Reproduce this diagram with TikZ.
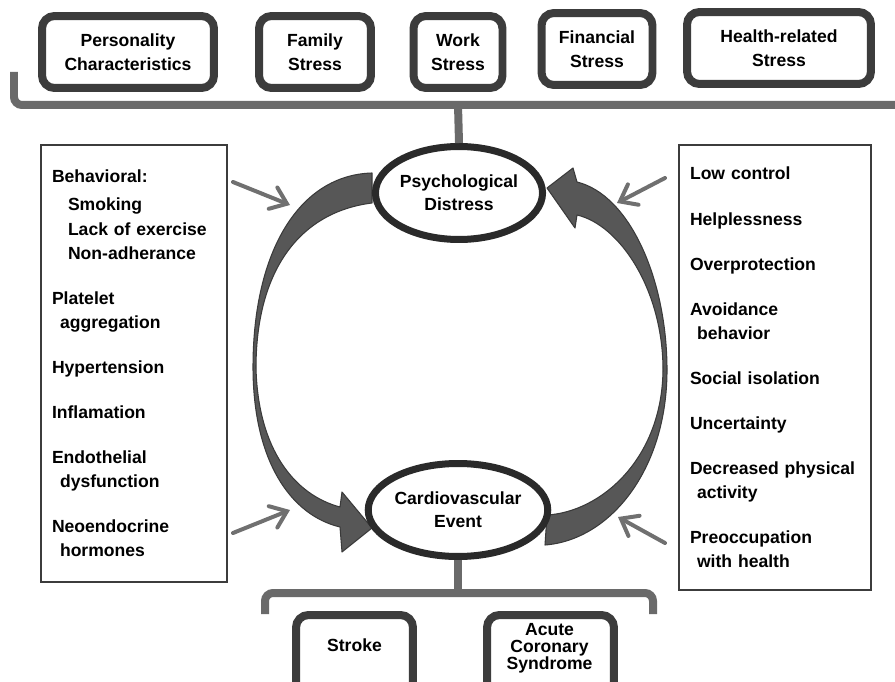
\documentclass[tikz,border=0pt]{standalone}
\usepackage{fontspec}
\setmainfont{Liberation Sans}
\usetikzlibrary{shapes.geometric,arrows.meta}

\definecolor{boxgray}{HTML}{3C3C3C}
\definecolor{ringgray}{HTML}{2A2A2A}
\definecolor{brackgray}{HTML}{6A6A6A}
\definecolor{bigfill}{HTML}{575757}
\definecolor{bigedge}{HTML}{3A3A3A}
\definecolor{feedgray}{HTML}{707070}

\begin{document}
\begin{tikzpicture}[x=0.02cm,y=-0.02cm,
  font=\fontsize{10}{13.7}\selectfont\bfseries,
  stressbox/.style={draw=boxgray,line width=0.16cm,rounded corners=0.25cm,
    minimum height=1.44cm,align=center,fill=white},
  outcomebox/.style={draw=boxgray,line width=0.16cm,rounded corners=0.25cm,
    minimum height=1.8cm,fill=white},
  state/.style={ellipse,draw=ringgray,line width=0.14cm,fill=white,
    minimum width=3.34cm,minimum height=1.86cm,inner sep=0pt,align=center,
    font=\fontsize{10}{13.1}\selectfont\bfseries},
  listbox/.style={draw=boxgray,line width=0.8pt,align=left,inner xsep=0.22cm},
  bracket/.style={draw=brackgray,line width=0.16cm},
  bigarrow/.style={fill=bigfill,draw=bigedge,line width=0.6pt,line join=round},
  feed/.style={draw=feedgray,line width=0.08cm,line cap=round,
    -{Straight Barb[length=0.3cm,width=0.46cm,line cap=round]}}]
\useasboundingbox (0,0) rectangle (895,682);
\clip (0,0) rectangle (895,682);

\path[bigarrow] (372,173) .. controls (300,175) and (253,250) .. (253,367)
  .. controls (253,460) and (290,515) .. (340,527)
  -- (342,552) -- (372,528) -- (342,492) -- (340,507)
  .. controls (295,495) and (258,450) .. (256,368)
  .. controls (256,270) and (300,212) .. (372,203) -- cycle;
\path[bigarrow] (577,182) .. controls (630,195) and (667,280) .. (667,370)
  .. controls (667,470) and (610,540) .. (545,545)
  -- (547,515)
  .. controls (600,512) and (662,460) .. (663,370)
  .. controls (663,290) and (620,225) .. (577,215)
  -- (575,228) -- (547,188) -- (573,168) -- cycle;

\node[stressbox,minimum width=3.44cm] (personality) at (128,52) {Personality\\Characteristics};
\node[stressbox,minimum width=2.24cm] (family) at (315,52) {Family\\Stress};
\node[stressbox,minimum width=1.78cm] (work) at (458,52) {Work\\Stress};
\node[stressbox,minimum width=2.22cm] (financial) at (597,49) {Financial\\Stress};
\node[stressbox,minimum width=3.68cm] (health) at (779,48) {Health-related\\Stress};

\node[state] (distress) at (459,193) {Psychological\\Distress};
\node[state] (event) at (458,510) {Cardiovascular\\Event};

\node[listbox,text width=3.28cm,minimum height=8.74cm] (mechanisms) at (134,363.5) {
Behavioral:\\[0.08cm]
\hspace*{0.32cm}Smoking\\
\hspace*{0.32cm}Lack of exercise\\
\hspace*{0.32cm}Non-adherance\\[0.42cm]
Platelet\\
\hspace*{0.16cm}aggregation\\[0.42cm]
Hypertension\\[0.42cm]
Inflamation\\[0.42cm]
Endothelial\\
\hspace*{0.16cm}dysfunction\\[0.42cm]
Neoendocrine\\
\hspace*{0.16cm}hormones};

\node[listbox,text width=3.4cm,minimum height=8.9cm] (reactions) at (775,367.5) {
Low control\\[0.42cm]
Helplessness\\[0.42cm]
Overprotection\\[0.42cm]
Avoidance\\
\hspace*{0.14cm}behavior\\[0.42cm]
Social isolation\\[0.42cm]
Uncertainty\\[0.42cm]
Decreased physical\\
\hspace*{0.14cm}activity\\[0.42cm]
Preoccupation\\
\hspace*{0.14cm}with health};

\coordinate (topend) at (14,72);
\coordinate (topcorner) at (14,105);
\coordinate (topright) at (900,105);
\coordinate (topstem) at (458,105);
\draw[bracket,rounded corners=0.16cm] (topend) -- (topcorner) -- (topright);
\draw[bracket] (topstem) -- (distress.north);

\coordinate (lowstem) at (458,593);
\draw[bracket] (event.south) -- (lowstem);
\draw[bracket,rounded corners=0.16cm] (265,614) -- (265,593) -- (653,593) -- (653,614);

\node[outcomebox,minimum width=2.34cm] (stroke) at (354.5,660) {};
\node (strokename) at (354.5,645) {Stroke};
\node[outcomebox,minimum width=2.54cm] (acs) at (550.5,660) {};
\node[align=center,font=\fontsize{10}{9.7}\selectfont\bfseries] (acsname) at (549.5,648) {Acute\\Coronary\\Syndrome};

\coordinate (mechtop) at (233,182);
\coordinate (mechlow) at (233,533);
\coordinate (leftin) at (290,205);
\coordinate (leftout) at (290,510);
\coordinate (reacttop) at (665,178);
\coordinate (reactlow) at (665,543);
\coordinate (rightin) at (617,203);
\coordinate (rightout) at (618,517);
\draw[feed] (mechtop) -- (leftin);
\draw[feed] (mechlow) -- (leftout);
\draw[feed] (reacttop) -- (rightin);
\draw[feed] (reactlow) -- (rightout);

\end{tikzpicture}
\end{document}
